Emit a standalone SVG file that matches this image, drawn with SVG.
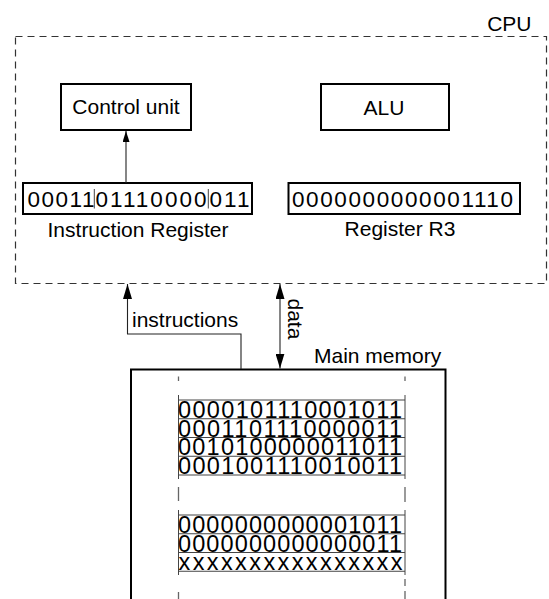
<svg xmlns="http://www.w3.org/2000/svg" width="549" height="599" viewBox="0 0 549 599">
<style>
text{font-family:"Liberation Sans",Arial,sans-serif;fill:#000}
.lbl{font-size:21px}
.reg{font-size:22.5px}
.word{font-size:23.5px}
.box{fill:#fff;stroke:#000;stroke-width:2}
.conn{fill:none;stroke:#222;stroke-width:1.1}
.cpu{fill:none;stroke:#333;stroke-width:1.2;stroke-dasharray:7 5}
.row{fill:none;stroke:#444;stroke-width:1}
.guide{fill:none;stroke:#666;stroke-width:1.3}
</style>
<defs>
<marker id="ah" markerWidth="15" markerHeight="9" refX="15" refY="4.5" orient="auto" markerUnits="userSpaceOnUse">
<path d="M0,0 L15,4.5 L0,9 z" fill="#000"/>
</marker>
<marker id="ahs" markerWidth="15" markerHeight="9" refX="15" refY="4.5" orient="auto-start-reverse" markerUnits="userSpaceOnUse">
<path d="M0,0 L15,4.5 L0,9 z" fill="#000"/>
</marker>
<marker id="ahsmall" markerWidth="11" markerHeight="7" refX="11" refY="3.5" orient="auto" markerUnits="userSpaceOnUse">
<path d="M0,0 L11,3.5 L0,7 z" fill="#000"/>
</marker>
</defs>

<g id="cpu">
<rect class="cpu" x="15.5" y="36.5" width="531" height="247"/>
<text class="lbl" x="531.5" y="30.7" text-anchor="end">CPU</text>
</g>

<g id="control-unit">
<rect class="box" x="61" y="84" width="130" height="46"/>
<text class="lbl" x="126" y="113.5" text-anchor="middle">Control unit</text>
</g>

<g id="alu">
<rect class="box" x="321" y="84" width="128" height="46"/>
<text class="lbl" x="384" y="115" text-anchor="middle">ALU</text>
</g>

<g id="instruction-register">
<rect class="box" x="23" y="183" width="229" height="31"/>
<text class="reg" x="27.5" y="206.7" textLength="67" lengthAdjust="spacing">00011</text>
<line class="row" x1="94.3" y1="189" x2="94.3" y2="208.5" stroke="#000"/>
<text class="reg" x="95.5" y="206.7" textLength="111" lengthAdjust="spacing">01110000</text>
<line class="row" x1="208.3" y1="189" x2="208.3" y2="208.5"/>
<text class="reg" x="209.5" y="206.7" textLength="40" lengthAdjust="spacing">011</text>
<text class="lbl" x="138" y="236.7" text-anchor="middle">Instruction Register</text>
</g>

<g id="register-r3">
<rect class="box" x="288.5" y="183" width="231.5" height="31"/>
<text class="reg" x="292" y="206.7" textLength="221" lengthAdjust="spacing">0000000000001110</text>
<text class="lbl" x="400" y="236" text-anchor="middle">Register R3</text>
</g>

<g id="main-memory">
<path d="M131,600 V369.5 H445.5 V600" fill="none" stroke="#000" stroke-width="2"/>
<text class="lbl" x="314" y="363.3">Main memory</text>
<g id="memory-guides">
<path class="guide" d="M178.5,376.5 V381 M178.5,487 V501 M178.5,592 V599 M405,376.5 V381 M405,487 V502 M405,579 V586 M405,591 V599"/>
</g>
<g id="memory-block-1">
<path class="row" d="M178.5,395 V479 M405,395 V479 M178.5,400 H405 M178.5,418.75 H405 M178.5,437.5 H405 M178.5,456.25 H405 M178.5,475 H405"/>
<text class="word" x="178" y="417.8" textLength="224" lengthAdjust="spacing">0000101110001011</text>
<text class="word" x="178" y="436.5" textLength="224" lengthAdjust="spacing">0001101110000011</text>
<text class="word" x="178" y="455.3" textLength="224" lengthAdjust="spacing">0010100000011011</text>
<text class="word" x="178" y="474" textLength="224" lengthAdjust="spacing">0001001110010011</text>
</g>
<g id="memory-block-2">
<path class="row" d="M178.5,510 V575 M405,510 V575 M178.5,515 H405 M178.5,533.75 H405 M178.5,552.5 H405 M178.5,571.25 H405"/>
<text class="word" x="178" y="532.8" textLength="224" lengthAdjust="spacing">0000000000001011</text>
<text class="word" x="178" y="551.5" textLength="224" lengthAdjust="spacing">0000000000000011</text>
<text class="word" x="178.5" y="570.2" textLength="224" lengthAdjust="spacing">xxxxxxxxxxxxxxxx</text>
</g>
</g>

<g id="connectors">
<line class="conn" x1="126" y1="183" x2="126" y2="131" marker-end="url(#ahsmall)"/>
<path class="conn" d="M241,369 V334 H127.5 V284" marker-end="url(#ah)"/>
<line class="conn" x1="280" y1="368.5" x2="280" y2="284" marker-start="url(#ahs)" marker-end="url(#ahs)"/>
<text class="lbl" x="132" y="327.3">instructions</text>
<text class="lbl" transform="translate(288,298.5) rotate(90)">data</text>
</g>
</svg>
